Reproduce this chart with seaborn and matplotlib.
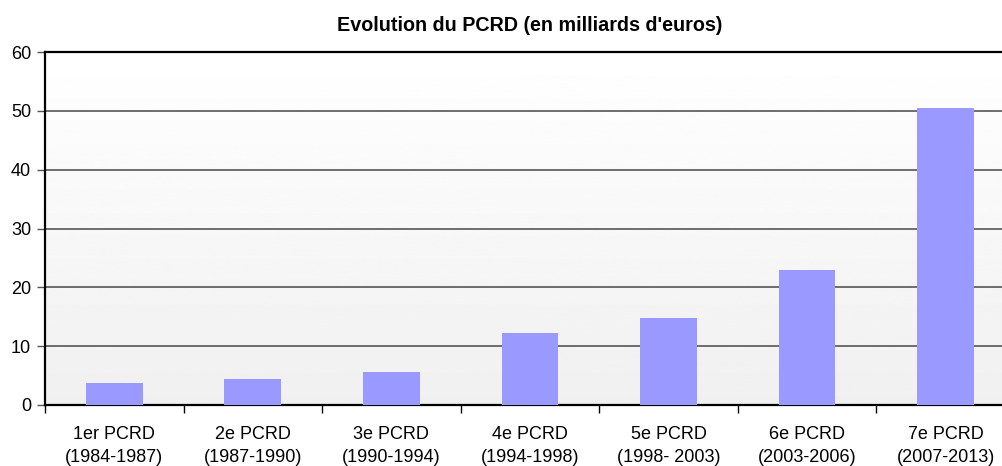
import numpy as np
import pandas as pd
import matplotlib
matplotlib.use("Agg")
import matplotlib.pyplot as plt
import seaborn as sns

programmes = ["1er PCRD", "2e PCRD", "3e PCRD", "4e PCRD", "5e PCRD", "6e PCRD", "7e PCRD"]
periodes = ["(1984-1987)", "(1987-1990)", "(1990-1994)", "(1994-1998)",
            "(1998- 2003)", "(2003-2006)", "(2007-2013)"]
budget = [3.8, 4.4, 5.6, 12.3, 14.8, 23.0, 50.5]

df = pd.DataFrame({"pcrd": [f"{p}\n{d}" for p, d in zip(programmes, periodes)],
                   "budget": budget})

sns.set_theme(style="white")
plt.rcParams["font.family"] = ["Liberation Sans", "DejaVu Sans"]
plt.rcParams["text.color"] = "black"
plt.rcParams["xtick.color"] = "black"
plt.rcParams["ytick.color"] = "black"

fig = plt.figure(figsize=(10.02, 4.66), dpi=100)
# the original chart is cropped on the right: the last category runs past the edge
ax = fig.add_axes([0.0449, 0.131, 0.968, 0.757])

# background gradient (white top -> light grey bottom)
grad = np.linspace(1.0, 0.94, 256).reshape(-1, 1)
ax.imshow(grad, cmap="gray", vmin=0, vmax=1, aspect="auto",
          extent=[0, 1, 0, 1], transform=ax.transAxes, zorder=0)

sns.barplot(data=df, x="pcrd", y="budget", color="#9999FF", saturation=1,
            width=0.41, linewidth=0, ax=ax, zorder=3)

ax.set_xlim(-0.5, len(budget) - 0.5)
ax.set_ylim(0, 60)
ax.set_yticks(range(0, 61, 10))
for y in range(10, 60, 10):
    ax.axhline(y, color="#555555", lw=1.2, zorder=2)

ax.set_xticks(np.arange(len(budget)))
ax.set_xticklabels(df["pcrd"], fontsize=13, linespacing=1.5)
ax.tick_params(axis="x", length=0, pad=15)
ax.set_xticks(np.arange(-0.5, len(budget) - 0.4, 1), minor=True)
ax.tick_params(axis="x", which="minor", length=6, width=1, color="black", direction="out", bottom=True)
ax.tick_params(axis="y", length=6, width=1, color="#555555", direction="out", left=True,
               labelsize=13, pad=4)

for side in ["left", "bottom", "top"]:
    ax.spines[side].set_visible(True)
    ax.spines[side].set_color("black")
    ax.spines[side].set_linewidth(1.6)
ax.spines["right"].set_visible(False)

ax.set_xlabel("")
ax.set_ylabel("")
ax.set_title("Evolution du PCRD (en milliards d'euros)", fontsize=14.2,
             fontweight="bold", pad=15)

fig.savefig("out.png", dpi=100)
